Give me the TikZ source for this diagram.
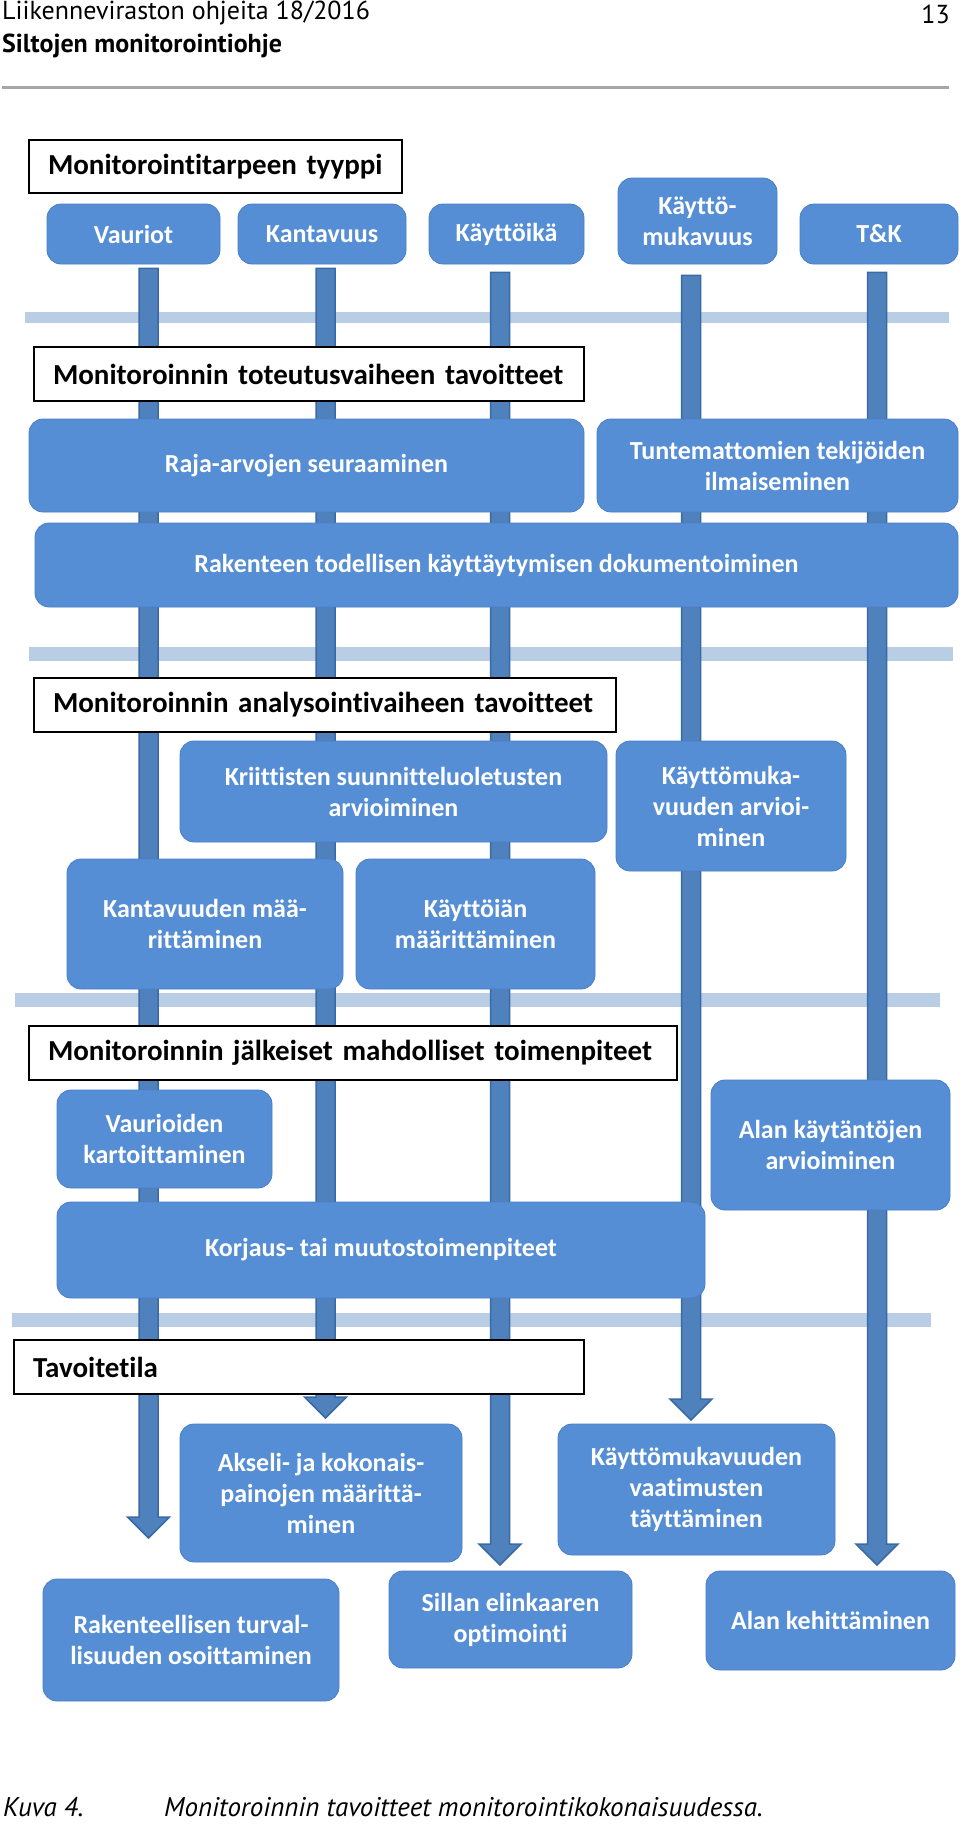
\documentclass[tikz,border=0pt]{standalone}
\usepackage{fontspec}
\setmainfont{Carlito}[Ligatures=NoCommon]
\newfontfamily\hdrfont{PT Sans}
\usetikzlibrary{calc}
\definecolor{boxblue}{HTML}{558ED5}
\definecolor{boxedge}{HTML}{4A7EC4}
\definecolor{arrfill}{HTML}{4F81BD}
\definecolor{arredge}{HTML}{3A6AA5}
\definecolor{bandc}{HTML}{B9CDE5}
\definecolor{rulegray}{HTML}{A6A6A6}
\pgfdeclarelayer{bg}
\pgfsetlayers{bg,main}
\tikzset{
 bluebox/.style={rectangle, rounded corners=14pt, fill=boxblue, draw=boxedge, line width=0.8pt, text=white, font=\fontsize{26}{31}\selectfont\bfseries, align=center, inner sep=2pt},
 titlebox/.style={rectangle, draw=black, line width=2pt, fill=white, font=\fontsize{29}{34}\selectfont\bfseries, align=left, inner xsep=19pt, inner ysep=2pt},
 band/.style={fill=bandc},
 fatarrow/.style={fill=arrfill, draw=arredge, line width=1.5pt, line join=miter},
 hdr/.style={anchor=base west, inner sep=0pt, font=\hdrfont\fontsize{26}{30}\selectfont},
}
\newcommand\fatarrow[2]{\filldraw[fatarrow] let \p1=(#1), \p2=(#2) in (\x1-9.5pt,\y1) -- (\x1+9.5pt,\y1) -- (\x1+9.5pt,\y2+21pt) -- (\x1+21pt,\y2+21pt) -- (\x2,\y2) -- (\x1-21pt,\y2+21pt) -- (\x1-9.5pt,\y2+21pt) -- cycle;}
\begin{document}
\begin{tikzpicture}[x=1pt,y=-1pt]
\useasboundingbox (0,0) rectangle (960,1824);

% header
\node[hdr] (hdr1) at (2,19) {Liikenneviraston ohjeita 18/2016};
\node[hdr, font=\hdrfont\bfseries\fontsize{26}{30}\selectfont] (hdr2) at (2,52) {Siltojen monitorointiohje};
\node[hdr, anchor=base east] (pageno) at (950,23) {13};
\draw[rulegray, line width=3pt] (2,87) -- (949,87);

% section titles
\node[titlebox, minimum height=53pt, text width=335pt] (t1) at (215.5,166.5) {Monitorointitarpeen tyyppi};
\node[titlebox, minimum height=54pt, text width=512pt] (t2) at (309,374) {Monitoroinnin toteutusvaiheen tavoitteet};
\node[titlebox, minimum height=54pt, text width=544pt] (t3) at (325,705) {Monitoroinnin analysointivaiheen tavoitteet};
\node[titlebox, minimum height=54pt, text width=610pt] (t4) at (353,1053) {Monitoroinnin jälkeiset mahdolliset toimenpiteet};
\node[titlebox, minimum height=54pt, text width=532pt] (t5) at (299,1367) {Tavoitetila};

% blue boxes
\node[bluebox, minimum width=173pt, minimum height=60pt] (vauriot) at (133.5,234) {Vauriot};
\node[bluebox, minimum width=168pt, minimum height=60pt] (kantavuus) at (322,234) {Kantavuus};
\node[bluebox, minimum width=155pt, minimum height=60pt] (kayttoika) at (506.5,234) {Käyttöikä};
\node[bluebox, minimum width=159pt, minimum height=86pt] (kayttomuk) at (697.5,221) {Käyttö-\\mukavuus};
\node[bluebox, minimum width=158pt, minimum height=60pt] (tk) at (879,234) {T\&K};

\node[bluebox, minimum width=555pt, minimum height=93pt] (raja) at (306.5,465.5) {Raja-arvojen seuraaminen};
\node[bluebox, minimum width=361pt, minimum height=93pt] (tunt) at (777.5,465.5) {Tuntemattomien tekijöiden\\ilmaiseminen};
\node[bluebox, minimum width=923pt, minimum height=84pt] (rak) at (496.5,565) {Rakenteen todellisen käyttäytymisen dokumentoiminen};

\node[bluebox, minimum width=427pt, minimum height=101pt] (kriit) at (393.5,791.5) {Kriittisten suunnitteluoletusten\\arvioiminen};
\node[bluebox, minimum width=230pt, minimum height=130pt] (kmarv) at (731,806) {Käyttömuka-\\vuuden arvioi-\\minen};
\node[bluebox, minimum width=276pt, minimum height=130pt] (kantm) at (205,924) {Kantavuuden mää-\\rittäminen};
\node[bluebox, minimum width=239pt, minimum height=130pt] (kaytm) at (475.5,924) {Käyttöiän\\määrittäminen};

\node[bluebox, minimum width=215pt, minimum height=98pt] (vaur) at (164.5,1139) {Vaurioiden\\kartoittaminen};
\node[bluebox, minimum width=239pt, minimum height=130pt] (alank) at (830.5,1145) {Alan käytäntöjen\\arvioiminen};
\node[bluebox, minimum width=648pt, minimum height=96pt] (korj) at (381,1250) {Korjaus- tai muutostoimenpiteet};

\node[bluebox, minimum width=282pt, minimum height=138pt] (aks) at (321,1493) {Akseli- ja kokonais-\\painojen määrittä-\\minen};
\node[bluebox, minimum width=277pt, minimum height=131pt] (kmvaat) at (696.5,1489.5) {Käyttömukavuuden\\vaatimusten\\täyttäminen};
\node[bluebox, minimum width=296pt, minimum height=122pt] (turv) at (191,1640) {Rakenteellisen turval-\\lisuuden osoittaminen};
\node[bluebox, minimum width=243pt, minimum height=97pt] (sillan) at (510.5,1619.5) {Sillan elinkaaren\\optimointi};
\node[bluebox, minimum width=249pt, minimum height=99pt] (alankeh) at (830.5,1620.5) {Alan kehittäminen};

% arrow end points
\coordinate (a1e) at (148.5,1538);
\coordinate (a2e) at (325.5,1418);
\coordinate (a3e) at (500,1565);
\coordinate (a4e) at (691,1420);
\coordinate (a5e) at (877,1565);
\coordinate (a1s) at ($(vauriot.south -| a1e)+(0,4)$);
\coordinate (a2s) at ($(kantavuus.south -| a2e)+(0,4)$);
\coordinate (a3s) at ($(kayttoika.south -| a3e)+(0,8)$);
\coordinate (a4s) at ($(kayttomuk.south -| a4e)+(0,11)$);
\coordinate (a5s) at ($(tk.south -| a5e)+(0,8)$);

\begin{pgfonlayer}{bg}
\fill[white] (0,0) rectangle (960,1824);
\fill[band] (25,312) rectangle (949,323);
\fill[band] (29,647) rectangle (953,661);
\fill[band] (15,993) rectangle (940,1007);
\fill[band] (12,1313) rectangle (931,1327);
\fatarrow{a1s}{a1e}
\fatarrow{a2s}{a2e}
\fatarrow{a3s}{a3e}
\fatarrow{a4s}{a4e}
\fatarrow{a5s}{a5e}
\end{pgfonlayer}

% caption
\node[hdr, font=\hdrfont\itshape\fontsize{27}{31}\selectfont] (cap1) at (3,1816) {Kuva 4.};
\node[hdr, font=\hdrfont\itshape\fontsize{27}{31}\selectfont] (cap2) at (164,1816) {Monitoroinnin tavoitteet monitorointikokonaisuudessa.};
\end{tikzpicture}
\end{document}
